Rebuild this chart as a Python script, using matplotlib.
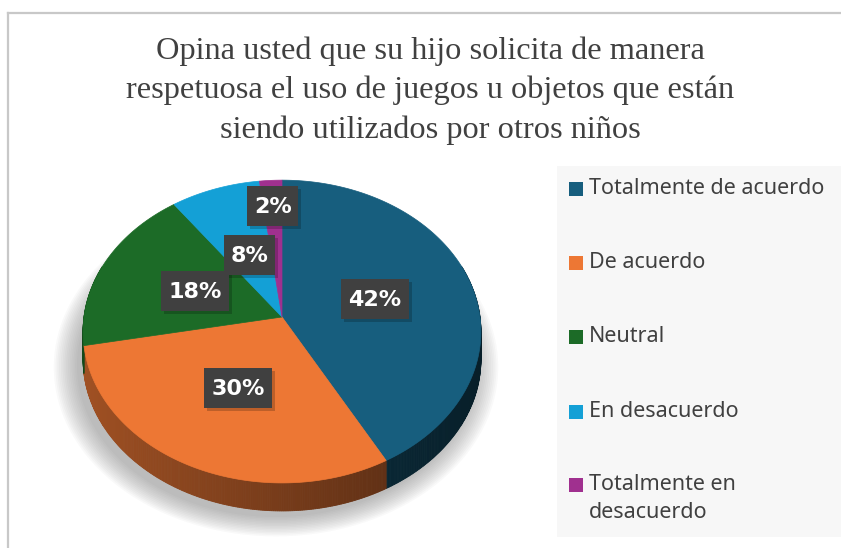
import numpy as np
import matplotlib
matplotlib.use("Agg")
import matplotlib.pyplot as plt
from matplotlib.patches import Polygon, Rectangle
from matplotlib.lines import Line2D

# ---- data ----
categories = ["Totalmente de acuerdo", "De acuerdo", "Neutral", "En desacuerdo",
              "Totalmente en\ndesacuerdo"]
values = [42, 30, 18, 8, 2]
title_lines = ["Opina usted que su hijo solicita de manera",
               "respetuosa el uso de juegos u objetos que están",
               "siendo utilizados por otros niños"]

# ---- style ----
colors = ["#175e7e", "#ed7734", "#1c6b27", "#14a0d6", "#a0308f"]
label_r = [0.49, 0.5, 0.48, 0.46, 0.8]

W, H = 841, 548
fig = plt.figure(figsize=(W / 100, H / 100), dpi=100)
ax = fig.add_axes([0, 0, 1, 1])
ax.set_xlim(0, W)
ax.set_ylim(H, 0)
ax.axis("off")

# frame
ax.add_line(Line2D([8, 8], [13, H], color="#c8c8c8", lw=1.6))
ax.add_line(Line2D([8, W], [13, 13], color="#c8c8c8", lw=1.6))

# title
for i, t in enumerate(title_lines):
    ax.text(430, 51 + 39.5 * i, t, ha="center", va="center",
            fontsize=23.3, family="Liberation Serif", color="#404040")

# pie geometry (perspective ellipse)
X0, Y0, A, B, K, D = 282, 317, 198, 150, 0.096, 28


def proj(theta_deg, r=1.0):
    th = np.radians(theta_deg)
    cx = r * np.sin(th)
    cz = r * np.cos(th)
    s = 1.0 / (1.0 + K * cz)
    return X0 + A * cx * s, Y0 - B * cz * s


def to_rgb(c):
    return np.array(matplotlib.colors.to_rgb(c))


# shadow (soft, mostly bottom-left)
full = np.linspace(0, 360, 361)
sx, sy = proj(full)
for i in range(14):
    g = 1 + 0.009 * i
    px = X0 - 6 + (sx - X0) * g
    py = Y0 + D + 6 + (sy - Y0) * g
    ax.add_patch(Polygon(np.c_[px, py], closed=True, fc="#7a7a7a",
                         ec="none", alpha=0.045, zorder=1))

total = float(sum(values))
angles = np.concatenate([[0], np.cumsum(values) / total * 360.0])

# side walls
for i, v in enumerate(values):
    a0, a1 = angles[i], angles[i + 1]
    n = max(int((a1 - a0) * 2), 2)
    ts = np.linspace(a0, a1, n + 1)
    base = to_rgb(colors[i])
    for j in range(n):
        t0, t1 = ts[j], ts[j + 1]
        tm = 0.5 * (t0 + t1)
        if np.cos(np.radians(tm)) > 0.35:
            continue
        x0_, y0_ = proj(t0)
        x1_, y1_ = proj(t1)
        cxm = np.sin(np.radians(tm))
        shade = 0.5 - 0.18 * cxm
        col = np.clip(base * shade, 0, 1)
        ax.add_patch(Polygon([[x0_, y0_], [x1_, y1_], [x1_, y1_ + D], [x0_, y0_ + D]],
                             closed=True, fc=col, ec=col, lw=0.6, zorder=2))

# top faces
for i, v in enumerate(values):
    a0, a1 = angles[i], angles[i + 1]
    ts = np.linspace(a0, a1, max(int((a1 - a0) * 2), 4))
    xs, ys = proj(ts)
    pts = np.vstack([[X0, Y0], np.c_[xs, ys]])
    ax.add_patch(Polygon(pts, closed=True, fc=colors[i], ec=colors[i],
                         lw=0.5, zorder=3))

# data labels
for i, v in enumerate(values):
    mid = 0.5 * (angles[i] + angles[i + 1])
    lx, ly = proj(mid, label_r[i])
    txt = f"{v}%"
    bw = 17 * len(txt) + 17
    bh = 40
    ax.add_patch(Rectangle((lx - bw / 2 + 3, ly - bh / 2 + 3), bw, bh,
                           fc="#000000", ec="none", alpha=0.2, zorder=4))
    ax.add_patch(Rectangle((lx - bw / 2, ly - bh / 2), bw, bh,
                           fc="#404040", ec="none", zorder=5))
    ax.text(lx, ly + 1, txt, ha="center", va="center", fontsize=16,
            fontweight="bold", color="white", family="DejaVu Sans", zorder=6)

# legend
ax.add_patch(Rectangle((557, 166), W - 557, 371, fc="#f7f7f7", ec="none", zorder=0))
leg_y = [189, 263, 337, 412, 485]
for i, c in enumerate(categories):
    ax.add_patch(Rectangle((569, leg_y[i] - 7), 14, 14, fc=colors[i], ec="none", zorder=3))
    ax.text(589, leg_y[i] - 11, c, ha="left", va="top", fontsize=15.5,
            family="Noto Sans", color="#404040", linespacing=1.45, zorder=3)

fig.savefig("out.png", dpi=100)
